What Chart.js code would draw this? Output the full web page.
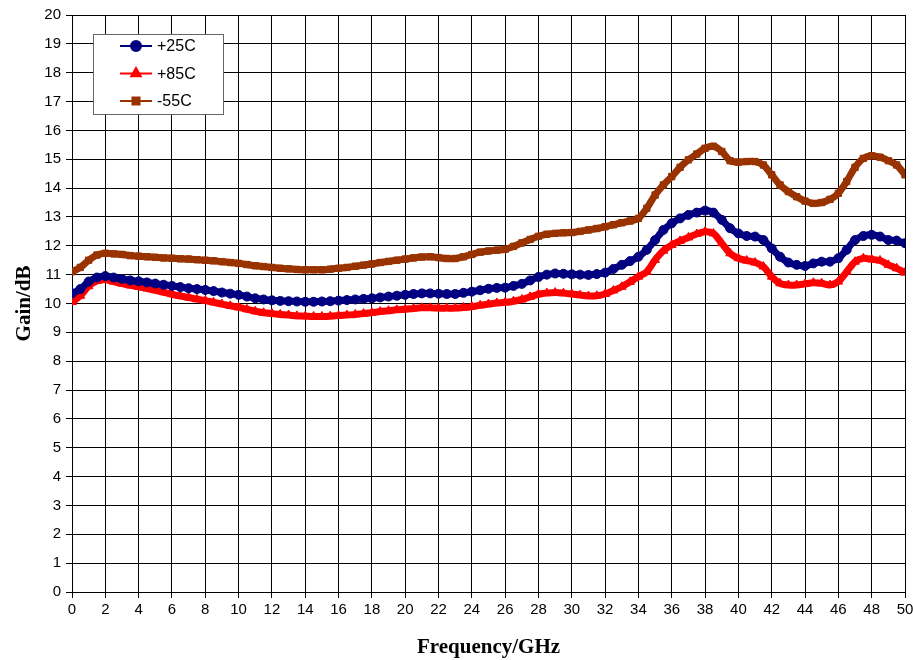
<!DOCTYPE html>
<html>
<head>
<meta charset="utf-8">
<script src="https://cdn.jsdelivr.net/npm/chart.js@4.4.0/dist/chart.umd.min.js"></script>
<style>
    html, body { margin: 0; padding: 0; background: #fff; }
    #wrap { position: relative; width: 913px; height: 660px; }
</style>
</head>
<body>
<div id="wrap"><canvas id="gainChart" width="913" height="660"></canvas></div>
<script>
// Frequency grid: one reading every 0.5 GHz, 0..50 GHz
const FREQ_STEP = 0.5;

// Gain readings (dB)
const gain25 = [
    10.35, 10.50, 10.76, 10.90, 10.95, 10.90, 10.85, 10.80, 10.77, 10.73,
    10.69, 10.65, 10.61, 10.57, 10.53, 10.50, 10.47, 10.43, 10.38, 10.34,
    10.30, 10.24, 10.18, 10.14, 10.11, 10.09, 10.08, 10.07, 10.06, 10.06,
    10.07, 10.08, 10.10, 10.12, 10.14, 10.16, 10.18, 10.21, 10.24, 10.27,
    10.30, 10.33, 10.35, 10.35, 10.34, 10.33, 10.33, 10.37, 10.41, 10.46,
    10.51, 10.54, 10.55, 10.61, 10.68, 10.80, 10.92, 11.00, 11.04, 11.03,
    11.01, 11.00, 10.99, 11.02, 11.07, 11.20, 11.34, 11.47, 11.62, 11.86,
    12.20, 12.55, 12.78, 12.95, 13.07, 13.15, 13.22, 13.15, 12.90, 12.61,
    12.43, 12.34, 12.32, 12.20, 11.91, 11.62, 11.42, 11.34, 11.30, 11.39,
    11.45, 11.45, 11.57, 11.86, 12.20, 12.34, 12.38, 12.32, 12.20, 12.18,
    12.09
];
const gain85 = [
    10.05, 10.27, 10.60, 10.78, 10.82, 10.76, 10.69, 10.63, 10.58, 10.52,
    10.46, 10.39, 10.32, 10.26, 10.21, 10.15, 10.10, 10.04, 9.98, 9.92,
    9.87, 9.80, 9.73, 9.68, 9.65, 9.62, 9.60, 9.57, 9.56, 9.55,
    9.55, 9.56, 9.58, 9.60, 9.62, 9.65, 9.68, 9.72, 9.75, 9.78,
    9.80, 9.83, 9.85, 9.85, 9.84, 9.84, 9.84, 9.86, 9.89, 9.94,
    9.98, 10.02, 10.04, 10.08, 10.14, 10.23, 10.32, 10.36, 10.38, 10.36,
    10.33, 10.29, 10.26, 10.27, 10.33, 10.45, 10.58, 10.75, 10.93, 11.10,
    11.51, 11.83, 12.03, 12.17, 12.29, 12.41, 12.49, 12.43, 12.09, 11.74,
    11.57, 11.49, 11.42, 11.28, 10.93, 10.70, 10.64, 10.64, 10.68, 10.72,
    10.70, 10.64, 10.76, 11.10, 11.45, 11.57, 11.53, 11.49, 11.34, 11.22,
    11.07
];
const gainM55 = [
    11.10, 11.25, 11.50, 11.68, 11.74, 11.72, 11.70, 11.66, 11.64, 11.62,
    11.60, 11.58, 11.57, 11.55, 11.54, 11.52, 11.50, 11.48, 11.45, 11.42,
    11.39, 11.35, 11.31, 11.28, 11.25, 11.22, 11.20, 11.18, 11.17, 11.17,
    11.17, 11.19, 11.22, 11.25, 11.29, 11.33, 11.37, 11.42, 11.46, 11.50,
    11.54, 11.58, 11.61, 11.62, 11.59, 11.56, 11.56, 11.62, 11.70, 11.78,
    11.82, 11.85, 11.88, 11.98, 12.10, 12.22, 12.33, 12.40, 12.43, 12.45,
    12.46, 12.50, 12.55, 12.60, 12.66, 12.73, 12.80, 12.86, 12.95, 13.30,
    13.76, 14.11, 14.40, 14.72, 14.98, 15.18, 15.38, 15.45, 15.27, 14.95,
    14.90, 14.92, 14.92, 14.80, 14.46, 14.11, 13.88, 13.70, 13.55, 13.47,
    13.50, 13.61, 13.82, 14.23, 14.72, 15.03, 15.12, 15.07, 14.95, 14.80,
    14.46
];

const seriesLabels = ['+25C', '+85C', '-55C'];

const freqs = gain25.map((_, i) => i * FREQ_STEP);
const toPoints = arr => arr.map((g, i) => ({ x: freqs[i], y: g }));

// Legend box drawn inside the plot, top-left
const boxLegend = {
    id: 'boxLegend',
    afterDraw(chart) {
        const ctx = chart.ctx;
        const x0 = 93, y0 = 34, w = 130, h = 80;
        ctx.save();
        ctx.fillStyle = '#fff';
        ctx.fillRect(x0, y0, w, h);
        ctx.strokeStyle = '#666';
        ctx.lineWidth = 1;
        ctx.strokeRect(x0 + 0.5, y0 + 0.5, w, h);
        ctx.font = '16px "Liberation Sans", Arial, sans-serif';
        ctx.textBaseline = 'middle';
        chart.data.datasets.forEach((ds, i) => {
            const y = y0 + 12 + i * 27.5;
            ctx.strokeStyle = ds.borderColor;
            ctx.lineWidth = 2;
            ctx.beginPath();
            ctx.moveTo(120, y);
            ctx.lineTo(152, y);
            ctx.stroke();
            ctx.fillStyle = ds.pointBackgroundColor;
            ctx.strokeStyle = ds.pointBorderColor;
            Chart.helpers.drawPoint(ctx, {
                pointStyle: ds.pointStyle,
                radius: ds.pointRadius + 0.5,
                borderWidth: 1
            }, 136, y);
            ctx.fillStyle = '#000';
            ctx.fillText(seriesLabels[i], 157, y + 1);
        });
        ctx.restore();
    }
};

function makeDataset(label, data, color, style, radius) {
    return {
        label: label,
        data: toPoints(data),
        borderColor: color,
        backgroundColor: color,
        pointBackgroundColor: color,
        pointBorderColor: color,
        pointStyle: style,
        pointRadius: radius,
        pointBorderWidth: 1,
        borderWidth: 7,
        tension: 0.3
    };
}

const ctx = document.getElementById('gainChart');
new Chart(ctx, {
    type: 'line',
    data: {
        datasets: [
            makeDataset(seriesLabels[0], gain25, '#000080', 'circle', 4.5),
            makeDataset(seriesLabels[1], gain85, '#ff0000', 'triangle', 5),
            makeDataset(seriesLabels[2], gainM55, '#993300', 'rect', 4.5)
        ]
    },
    options: {
        responsive: false,
        animation: false,
        layout: { padding: { top: 15, right: 0, left: 0, bottom: 0 } },
        plugins: {
            legend: { display: false },
            tooltip: { enabled: false }
        },
        scales: {
            x: {
                type: 'linear',
                min: 0,
                max: 50,
                ticks: {
                    stepSize: 2,
                    color: '#000',
                    padding: 3,
                    maxRotation: 0,
                    font: { family: '"Liberation Sans", Arial, sans-serif', size: 15 }
                },
                grid: { color: '#000', tickColor: '#000', tickLength: 6, lineWidth: 1 },
                border: { color: '#000' },
                title: {
                    display: true,
                    text: 'Frequency/GHz',
                    color: '#000',
                    padding: { top: 12, bottom: 0 },
                    font: { family: '"Liberation Serif", "Times New Roman", serif', size: 21, weight: 'bold' }
                },
                afterFit: scale => {
                    scale.height = 68;
                    scale.paddingRight = 8;
                }
            },
            y: {
                min: 0,
                max: 20,
                ticks: {
                    stepSize: 1,
                    color: '#000',
                    padding: 5,
                    font: { family: '"Liberation Sans", Arial, sans-serif', size: 15 }
                },
                grid: { color: '#000', tickColor: '#000', tickLength: 6, lineWidth: 1 },
                border: { color: '#000' },
                title: {
                    display: true,
                    text: 'Gain/dB',
                    color: '#000',
                    padding: { top: 12, bottom: 0 },
                    font: { family: '"Liberation Serif", "Times New Roman", serif', size: 21, weight: 'bold' }
                },
                afterFit: scale => { scale.width = 72; }
            }
        }
    },
    plugins: [boxLegend]
});
</script>
</body>
</html>
